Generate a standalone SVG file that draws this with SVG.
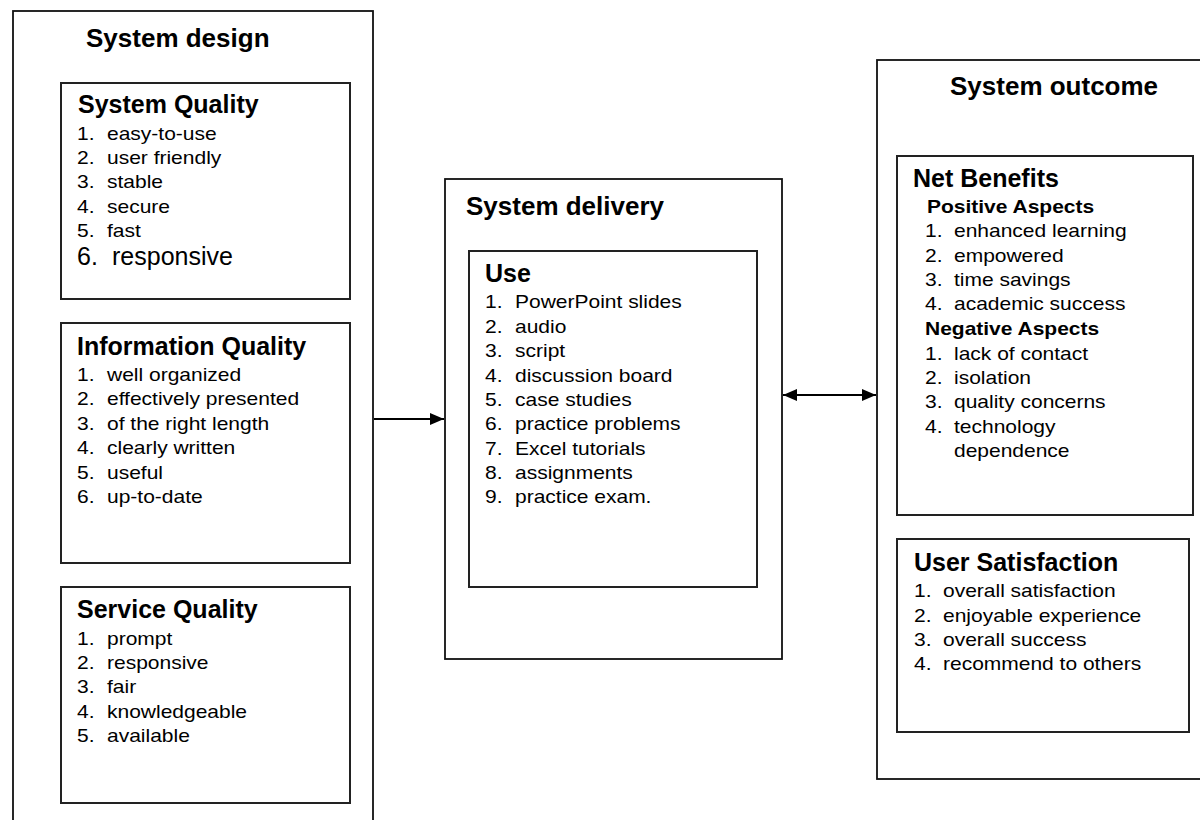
<svg xmlns="http://www.w3.org/2000/svg" width="1200" height="820" viewBox="0 0 1200 820">
<style>
.box{fill:#fff;stroke:#111;stroke-width:1.8}
.ibox{fill:#fff;stroke:#222;stroke-width:2}
text{font-family:"Liberation Sans",Arial,sans-serif;fill:#000}
.t1{font-size:26px;font-weight:bold}
.t2{font-size:25px;font-weight:bold}
.t3{font-size:17.5px;font-weight:bold}
.b{font-size:17.5px}
.big{font-size:25px}
.conn{stroke:#000;stroke-width:1.8;fill:none}
</style>
<defs>
<marker id="ah" viewBox="0 0 14 12" refX="14" refY="6" markerWidth="14" markerHeight="12" markerUnits="userSpaceOnUse" orient="auto-start-reverse">
<path d="M0,0 L14,6 L0,12 Z" fill="#000"/>
</marker>
</defs>

<g id="system-design">
<rect class="box" x="13" y="11" width="360" height="830"/>
<text class="t1" x="86" y="47">System design</text>
</g>

<g id="system-quality">
<rect class="ibox" x="61" y="83" width="289" height="216"/>
<text class="t2" x="78" y="113">System Quality</text>
<g transform="scale(1.2,1)">
<text class="b"><tspan x="64.17" y="140">1.</tspan><tspan x="89.17" y="140">easy-to-use</tspan></text>
<text class="b"><tspan x="64.17" y="164">2.</tspan><tspan x="89.17" y="164">user friendly</tspan></text>
<text class="b"><tspan x="64.17" y="188">3.</tspan><tspan x="89.17" y="188">stable</tspan></text>
<text class="b"><tspan x="64.17" y="213">4.</tspan><tspan x="89.17" y="213">secure</tspan></text>
<text class="b"><tspan x="64.17" y="237">5.</tspan><tspan x="89.17" y="237">fast</tspan></text>
</g>
<text class="big"><tspan x="77" y="265">6.</tspan><tspan x="112" y="265">responsive</tspan></text>
</g>

<g id="information-quality">
<rect class="ibox" x="61" y="323" width="289" height="240"/>
<text class="t2" x="77" y="355">Information Quality</text>
<g transform="scale(1.2,1)">
<text class="b"><tspan x="64.17" y="381">1.</tspan><tspan x="89.17" y="381">well organized</tspan></text>
<text class="b"><tspan x="64.17" y="405">2.</tspan><tspan x="89.17" y="405">effectively presented</tspan></text>
<text class="b"><tspan x="64.17" y="430">3.</tspan><tspan x="89.17" y="430">of the right length</tspan></text>
<text class="b"><tspan x="64.17" y="454">4.</tspan><tspan x="89.17" y="454">clearly written</tspan></text>
<text class="b"><tspan x="64.17" y="479">5.</tspan><tspan x="89.17" y="479">useful</tspan></text>
<text class="b"><tspan x="64.17" y="503">6.</tspan><tspan x="89.17" y="503">up-to-date</tspan></text>
</g>
</g>

<g id="service-quality">
<rect class="ibox" x="61" y="587" width="289" height="216"/>
<text class="t2" x="77" y="618">Service Quality</text>
<g transform="scale(1.2,1)">
<text class="b"><tspan x="64.17" y="645">1.</tspan><tspan x="89.17" y="645">prompt</tspan></text>
<text class="b"><tspan x="64.17" y="669">2.</tspan><tspan x="89.17" y="669">responsive</tspan></text>
<text class="b"><tspan x="64.17" y="693">3.</tspan><tspan x="89.17" y="693">fair</tspan></text>
<text class="b"><tspan x="64.17" y="718">4.</tspan><tspan x="89.17" y="718">knowledgeable</tspan></text>
<text class="b"><tspan x="64.17" y="742">5.</tspan><tspan x="89.17" y="742">available</tspan></text>
</g>
</g>

<g id="system-delivery">
<rect class="box" x="445" y="179" width="337" height="480"/>
<text class="t1" x="466" y="215">System delivery</text>
</g>

<g id="use">
<rect class="ibox" x="469" y="251" width="288" height="336"/>
<text class="t2" x="485" y="282">Use</text>
<g transform="scale(1.2,1)">
<text class="b"><tspan x="404.17" y="308">1.</tspan><tspan x="429.17" y="308">PowerPoint slides</tspan></text>
<text class="b"><tspan x="404.17" y="333">2.</tspan><tspan x="429.17" y="333">audio</tspan></text>
<text class="b"><tspan x="404.17" y="357">3.</tspan><tspan x="429.17" y="357">script</tspan></text>
<text class="b"><tspan x="404.17" y="382">4.</tspan><tspan x="429.17" y="382">discussion board</tspan></text>
<text class="b"><tspan x="404.17" y="406">5.</tspan><tspan x="429.17" y="406">case studies</tspan></text>
<text class="b"><tspan x="404.17" y="430">6.</tspan><tspan x="429.17" y="430">practice problems</tspan></text>
<text class="b"><tspan x="404.17" y="455">7.</tspan><tspan x="429.17" y="455">Excel tutorials</tspan></text>
<text class="b"><tspan x="404.17" y="479">8.</tspan><tspan x="429.17" y="479">assignments</tspan></text>
<text class="b"><tspan x="404.17" y="503">9.</tspan><tspan x="429.17" y="503">practice exam.</tspan></text>
</g>
</g>

<g id="system-outcome">
<rect class="box" x="877" y="60" width="340" height="719"/>
<text class="t1" x="950" y="95">System outcome</text>
</g>

<g id="net-benefits">
<rect class="ibox" x="897" y="156" width="296" height="359"/>
<text class="t2" x="913" y="187">Net Benefits</text>
<g transform="scale(1.2,1)">
<text class="t3" x="772.5" y="213">Positive Aspects</text>
<text class="b"><tspan x="770.83" y="237">1.</tspan><tspan x="795" y="237">enhanced learning</tspan></text>
<text class="b"><tspan x="770.83" y="262">2.</tspan><tspan x="795" y="262">empowered</tspan></text>
<text class="b"><tspan x="770.83" y="286">3.</tspan><tspan x="795" y="286">time savings</tspan></text>
<text class="b"><tspan x="770.83" y="310">4.</tspan><tspan x="795" y="310">academic success</tspan></text>
<text class="t3" x="770.83" y="335">Negative Aspects</text>
<text class="b"><tspan x="770.83" y="360">1.</tspan><tspan x="795" y="360">lack of contact</tspan></text>
<text class="b"><tspan x="770.83" y="384">2.</tspan><tspan x="795" y="384">isolation</tspan></text>
<text class="b"><tspan x="770.83" y="408">3.</tspan><tspan x="795" y="408">quality concerns</tspan></text>
<text class="b"><tspan x="770.83" y="433">4.</tspan><tspan x="795" y="433">technology</tspan></text>
<text class="b" x="795" y="457">dependence</text>
</g>
</g>

<g id="user-satisfaction">
<rect class="ibox" x="897" y="539" width="292" height="193"/>
<text class="t2" x="914" y="571">User Satisfaction</text>
<g transform="scale(1.2,1)">
<text class="b"><tspan x="761.67" y="597">1.</tspan><tspan x="785.83" y="597">overall satisfaction</tspan></text>
<text class="b"><tspan x="761.67" y="622">2.</tspan><tspan x="785.83" y="622">enjoyable experience</tspan></text>
<text class="b"><tspan x="761.67" y="646">3.</tspan><tspan x="785.83" y="646">overall success</tspan></text>
<text class="b"><tspan x="761.67" y="670">4.</tspan><tspan x="785.83" y="670">recommend to others</tspan></text>
</g>
</g>

<g id="connectors">
<line class="conn" x1="374" y1="419" x2="444" y2="419" marker-end="url(#ah)"/>
<line class="conn" x1="783" y1="395" x2="876" y2="395" marker-start="url(#ah)" marker-end="url(#ah)"/>
</g>
</svg>
